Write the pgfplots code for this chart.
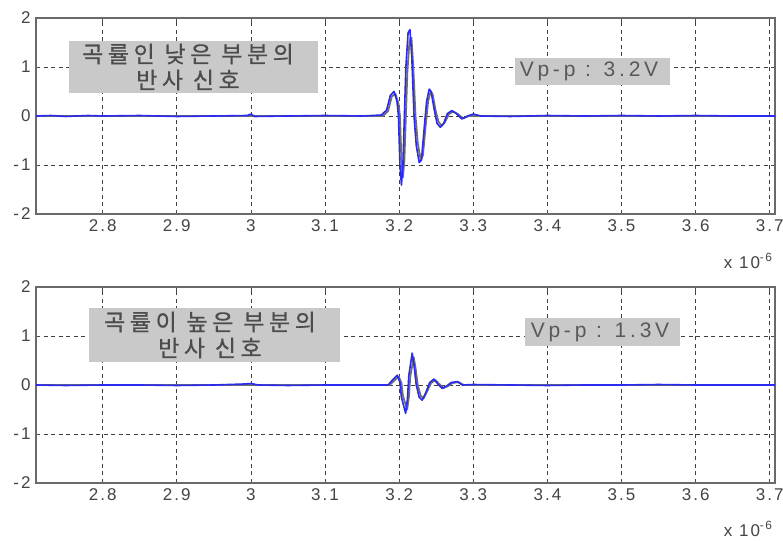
\documentclass[border=0pt]{standalone}
\usepackage{pgfplots}
\pgfplotsset{compat=1.18}
\usepackage{fontspec}
\setmainfont{Liberation Sans}[LetterSpace=12]
\newfontfamily\kr{Noto Sans CJK KR}[LetterSpace=20, FakeBold=0.6]
\newfontfamily\vpp{Liberation Sans}[LetterSpace=18]

\definecolor{framegray}{HTML}{6A6A6A}
\definecolor{labelgray}{HTML}{444444}
\definecolor{boxgray}{HTML}{C9C9C9}
\definecolor{tracegray}{HTML}{6E6E6E}
\definecolor{traceblue}{HTML}{2A2AF0}

% reflected pulse, low-curvature section (x in units of 1e-6 s, y in V)
\pgfplotstableread{
x y
2.710 0.00
2.730 0.01
2.750 -0.01
2.780 0.01
2.800 0.00
2.850 0.01
2.900 -0.01
2.950 0.00
2.995 0.01
3.000 0.04
3.005 -0.01
3.050 0.00
3.100 0.01
3.150 0.00
3.176 0.02
3.183 0.12
3.188 0.42
3.193 0.50
3.197 0.30
3.199 0.00
3.201 -1.00
3.203 -1.41
3.205 -1.00
3.207 0.00
3.209 1.00
3.212 1.70
3.2145 1.76
3.217 1.20
3.220 0.00
3.223 -0.60
3.227 -0.95
3.230 -0.90
3.234 -0.20
3.237 0.30
3.2405 0.55
3.243 0.50
3.247 0.15
3.251 -0.15
3.2555 -0.23
3.260 -0.15
3.265 0.05
3.271 0.11
3.277 0.05
3.2845 -0.06
3.292 0.00
3.300 0.04
3.310 0.00
3.350 -0.01
3.400 0.01
3.450 0.00
3.500 0.01
3.550 0.00
3.600 0.01
3.650 0.00
3.707 0.00
}\lowA
\pgfplotstableread{
x y
2.710 0.00
3.178 0.00
3.185 0.10
3.190 0.40
3.195 0.45
3.199 0.25
3.201 0.00
3.203 -0.90
3.205 -1.25
3.207 -0.90
3.209 0.00
3.211 0.90
3.214 1.55
3.2165 1.60
3.219 1.00
3.222 0.00
3.225 -0.55
3.229 -0.90
3.232 -0.80
3.236 -0.15
3.239 0.30
3.2425 0.50
3.245 0.45
3.249 0.12
3.253 -0.12
3.2575 -0.20
3.262 -0.12
3.267 0.04
3.273 0.09
3.279 0.04
3.2865 -0.05
3.294 0.00
3.707 0.00
}\lowB

% reflected pulse, high-curvature section
\pgfplotstableread{
x y
2.710 0.00
2.750 -0.01
2.800 0.00
2.850 0.00
2.900 -0.01
2.950 0.00
2.990 0.02
3.000 0.03
3.010 0.00
3.050 -0.01
3.100 0.00
3.150 0.00
3.185 0.00
3.192 0.12
3.1974 0.20
3.201 0.05
3.203 -0.25
3.2087 -0.58
3.211 -0.30
3.213 0.20
3.2175 0.65
3.220 0.40
3.223 0.00
3.227 -0.25
3.2311 -0.31
3.236 -0.15
3.241 0.05
3.2468 0.12
3.252 0.02
3.258 -0.07
3.264 -0.02
3.270 0.05
3.2782 0.07
3.285 0.00
3.300 0.01
3.350 0.00
3.400 -0.01
3.450 0.00
3.500 0.00
3.550 0.01
3.600 0.00
3.650 0.00
3.707 0.00
}\highA
\pgfplotstableread{
x y
2.710 0.00
3.187 0.00
3.194 0.10
3.1994 0.17
3.203 0.04
3.205 -0.22
3.2107 -0.50
3.213 -0.25
3.215 0.18
3.2195 0.57
3.222 0.35
3.225 0.00
3.229 -0.22
3.2331 -0.27
3.238 -0.12
3.243 0.04
3.2488 0.10
3.254 0.02
3.260 -0.06
3.266 -0.02
3.272 0.04
3.2802 0.06
3.287 0.00
3.707 0.00
}\highB

\pgfplotsset{
  scope/.style={
    scale only axis, width=739bp, height=196bp,
    xmin=2.71, xmax=3.707, ymin=-2, ymax=2,
    xtick={2.8,2.9,3.0,3.1,3.2,3.3,3.4,3.5,3.6,3.7},
    xticklabels={2.8,2.9,3,3.1,3.2,3.3,3.4,3.5,3.6,3.7},
    ytick={-2,-1,0,1,2},
    yticklabels={-2,-1,0,1,2},
    tick align=inside, major tick length=4bp,
    tick style={black!70, line width=0.9bp},
    axis line style={framegray, line width=1.6bp},
    grid=major,
    major grid style={black!75, line width=0.9bp, dash pattern=on 4bp off 3.5bp},
    ticklabel style={font=\fontsize{17bp}{20bp}\selectfont, text=labelgray},
    xticklabel style={yshift=-2bp},
    yticklabel style={xshift=-2bp},
    clip=true,
  },
  gtrace/.style={tracegray, line width=1.8bp, line join=round},
  btrace/.style={traceblue, line width=1.6bp, line join=round},
}

\begin{document}
\begin{tikzpicture}
\path[use as bounding box, fill=white] (0,0) rectangle (783bp,541bp);

\begin{axis}[scope, at={(36bp,327bp)}, anchor=south west]
  \addplot[gtrace] table[x=x,y=y] {\lowB};
  \addplot[btrace] table[x=x,y=y] {\lowA};
\end{axis}

\begin{axis}[scope, at={(36bp,58bp)}, anchor=south west]
  \addplot[gtrace] table[x=x,y=y] {\highB};
  \addplot[btrace] table[x=x,y=y] {\highA};
\end{axis}

% annotation boxes
\fill[boxgray] (69bp,448bp) rectangle (318bp,500bp);
\node[text=black!70, align=center, font=\kr\fontsize{23bp}{26bp}\selectfont]
  at (188bp,474bp) {곡률인 낮은 부분의\\반사 신호};
\fill[boxgray] (515bp,456bp) rectangle (670bp,483bp);
\node[text=black!65, font=\vpp\fontsize{21bp}{24bp}\selectfont]
  at (589bp,469.5bp) {Vp-p : 3.2V};

\fill[boxgray] (89bp,179bp) rectangle (340bp,233bp);
\node[text=black!70, align=center, font=\kr\fontsize{23bp}{26bp}\selectfont]
  at (210bp,206bp) {곡률이 높은 부분의\\반사 신호};
\fill[boxgray] (525bp,195bp) rectangle (680bp,223bp);
\node[text=black!65, font=\vpp\fontsize{21bp}{24bp}\selectfont]
  at (600bp,209bp) {Vp-p : 1.3V};

% exponent labels
\node[anchor=east, text=labelgray, font=\fontsize{17bp}{20bp}\selectfont]
  at (776bp,280bp) {x 10\textsuperscript{-6}};
\node[anchor=east, text=labelgray, font=\fontsize{17bp}{20bp}\selectfont]
  at (776bp,12bp) {x 10\textsuperscript{-6}};
\end{tikzpicture}
\end{document}
